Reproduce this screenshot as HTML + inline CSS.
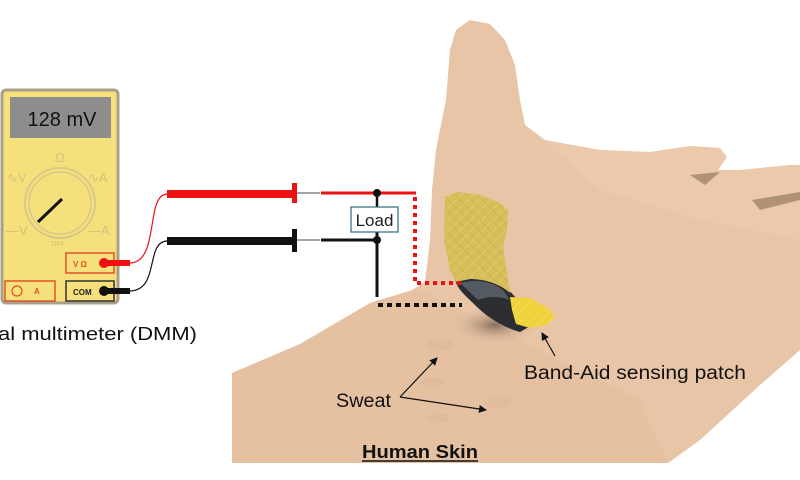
<!DOCTYPE html>
<html><head><meta charset="utf-8"><style>
html,body{margin:0;padding:0;background:#fff;width:800px;height:480px;overflow:hidden}
svg{display:block}
text{font-family:"Liberation Sans",sans-serif}
</style></head><body>
<svg width="800" height="480" viewBox="0 0 800 480" xmlns="http://www.w3.org/2000/svg">
<defs>
<marker id="ah" markerWidth="8" markerHeight="8" refX="7" refY="4" orient="auto" markerUnits="userSpaceOnUse"><path d="M0,0 L8,4 L0,8 z" fill="#111"/></marker>
<pattern id="hatch" width="8" height="8" patternUnits="userSpaceOnUse" patternTransform="rotate(45)"><rect width="8" height="8" fill="#d6be58"/><line x1="0" y1="0" x2="0" y2="8" stroke="#e6d486" stroke-width="1.2"/><line x1="0" y1="0" x2="8" y2="0" stroke="#c8ae4c" stroke-width="1"/></pattern>
<pattern id="hatch2" width="7" height="7" patternUnits="userSpaceOnUse" patternTransform="rotate(45)"><rect width="7" height="7" fill="#f0d23a"/><line x1="0" y1="0" x2="0" y2="7" stroke="#f7e27a" stroke-width="1"/></pattern>
<radialGradient id="shadow" cx="0.5" cy="0.5" r="0.5"><stop offset="0" stop-color="#5a4a3e" stop-opacity="0.7"/><stop offset="1" stop-color="#e6c1a0" stop-opacity="0"/></radialGradient>
</defs>

<!-- skin -->
<path d="M232,373 L300,344 L370,303 L412,290 L425,282 L430,240 L432,190 L436,150 L446,100 L450,50 L456,30 L470,20 L490,24 L505,40 L515,65 L520,100 L525,125 L545,140 L600,150 L650,152 L690,146 L720,148 L727,157 L718,170 L740,170 L790,165 L800,165 L800,350 L760,385 L700,440 L668,463 L232,463 Z" fill="#e8c5a6"/>
<path d="M232,373 L300,344 L370,303 L420,290 L480,320 L560,360 L640,400 L668,463 L232,463 Z" fill="#e2bd9d" opacity="0.5"/>
<path d="M525,125 L545,140 L600,150 L650,152 L690,146 L720,148 L727,157 L718,170 L740,170 L790,165 L800,165 L800,240 L700,220 L600,190 Z" fill="#ecccae" opacity="0.6"/>
<path d="M690,175 L720,172 L705,185 Z" fill="#b09276"/>
<path d="M752,200 L800,192 L800,200 L760,210 Z" fill="#b09276"/>
<ellipse cx="495" cy="325" rx="45" ry="20" fill="url(#shadow)"/>
<!-- sweat drops -->
<ellipse cx="440" cy="345" rx="14" ry="6" fill="#dcb898" opacity="0.6"/>
<ellipse cx="432" cy="383" rx="12" ry="5" fill="#dcb898" opacity="0.6"/>
<ellipse cx="497" cy="402" rx="14" ry="6" fill="#dcb898" opacity="0.6"/>
<ellipse cx="438" cy="418" rx="12" ry="5" fill="#dcb898" opacity="0.6"/>

<!-- patch -->
<path d="M455,280 C470,274 492,276 504,286 C516,296 526,310 534,324 L520,332 C505,328 488,318 476,306 C466,296 458,290 455,280 Z" fill="#2b2d30"/>
<path d="M460,283 C475,279 492,281 503,290 L510,300 C500,296 488,296 478,300 Z" fill="#535a61"/>
<path d="M445,197 L457,192 L480,195 L500,203 L508,210 L507,230 L503,247 L506,267 L510,293 C500,284 485,279 470,279 L456,282 L450,270 L444,240 Z" fill="url(#hatch)"/>
<path d="M510,297 L530,298 L548,308 L555,318 L546,325 L530,328 L516,324 L512,310 Z" fill="url(#hatch2)"/>

<!-- multimeter -->
<rect x="2" y="90" width="116" height="213" rx="4" fill="#f6e07c" stroke="#a8a08a" stroke-width="3"/>
<rect x="10" y="97" width="101" height="41" fill="#8d8d8d"/>
<text x="62" y="126" font-size="20" text-anchor="middle" fill="#111">128 mV</text>
<circle cx="60" cy="203" r="35" fill="none" stroke="#d8c98a" stroke-width="2"/>
<circle cx="60" cy="203" r="31" fill="none" stroke="#d8c98a" stroke-width="1.5"/>
<line x1="38" y1="222" x2="62" y2="199" stroke="#111" stroke-width="3"/>
<g fill="#d2c380" font-size="13">
<text x="60" y="162" text-anchor="middle">Ω</text>
<text x="7" y="182">∿V</text>
<text x="88" y="182">∿A</text>
<text x="6" y="235">—V</text>
<text x="88" y="235">—A</text>
<text x="58" y="246" text-anchor="middle" font-size="7">OFF</text>
</g>
<rect x="66" y="253" width="48" height="20" fill="none" stroke="#e0522c" stroke-width="1.5"/>
<text x="73" y="267" font-size="8" font-weight="bold" fill="#e0522c">V Ω</text>
<rect x="66" y="281" width="48" height="20" fill="none" stroke="#333" stroke-width="1.5"/>
<text x="73" y="295" font-size="8" font-weight="bold" fill="#222">COM</text>
<rect x="5" y="281" width="50" height="20" fill="none" stroke="#e0522c" stroke-width="1.5"/>
<circle cx="17" cy="291" r="5" fill="none" stroke="#e0522c" stroke-width="1.2"/>
<text x="34" y="294" font-size="8" font-weight="bold" fill="#e0522c">A</text>
<!-- plugs -->
<circle cx="104" cy="263" r="5" fill="#e11"/>
<rect x="104" y="260" width="26" height="6" fill="#e11"/>
<circle cx="104" cy="291" r="5" fill="#111"/>
<rect x="104" y="288" width="26" height="6" fill="#111"/>
<path d="M130,263 C160,262 145,195 167,194" fill="none" stroke="#e11" stroke-width="1.2"/>
<path d="M130,291 C160,290 145,242 167,241" fill="none" stroke="#111" stroke-width="1.2"/>
<!-- probes -->
<rect x="167" y="190" width="126" height="8" fill="#e11"/>
<rect x="292" y="183" width="5" height="20" fill="#e11"/>
<line x1="297" y1="193" x2="320" y2="193" stroke="#888" stroke-width="1.5"/>
<rect x="167" y="237" width="126" height="8" fill="#111"/>
<rect x="292" y="229" width="5" height="23" fill="#111"/>
<line x1="297" y1="240" x2="320" y2="240" stroke="#888" stroke-width="1.5"/>

<!-- circuit -->
<line x1="321" y1="193" x2="416" y2="193" stroke="#e11" stroke-width="3"/>
<line x1="321" y1="240" x2="377" y2="240" stroke="#111" stroke-width="3"/>
<line x1="377" y1="193" x2="377" y2="207" stroke="#111" stroke-width="2.5"/>
<line x1="377" y1="232" x2="377" y2="297" stroke="#111" stroke-width="3"/>
<circle cx="377" cy="193" r="4" fill="#111"/>
<circle cx="377" cy="240" r="4" fill="#111"/>
<rect x="351" y="207" width="47" height="25" fill="#fff" stroke="#2b6a7a" stroke-width="1.2"/>
<text x="374.5" y="226" font-size="17" text-anchor="middle" fill="#222">Load</text>
<path d="M415,197 L415,283 L462,283" fill="none" stroke="#e11" stroke-width="4" stroke-dasharray="4,4"/>
<line x1="378" y1="305" x2="462" y2="305" stroke="#111" stroke-width="4" stroke-dasharray="5,4"/>

<!-- labels -->
<text x="-2" y="340" font-size="18" fill="#111" textLength="199" lengthAdjust="spacingAndGlyphs">al multimeter (DMM)</text>
<text x="524" y="379" font-size="19" fill="#111" textLength="222" lengthAdjust="spacingAndGlyphs">Band-Aid sensing patch</text>
<line x1="555" y1="356" x2="542" y2="333" stroke="#111" stroke-width="1.2" marker-end="url(#ah)"/>
<text x="336" y="407" font-size="19" fill="#111" textLength="55" lengthAdjust="spacingAndGlyphs">Sweat</text>
<line x1="400" y1="397" x2="437" y2="358" stroke="#111" stroke-width="1.2" marker-end="url(#ah)"/>
<line x1="400" y1="397" x2="486" y2="410" stroke="#111" stroke-width="1.2" marker-end="url(#ah)"/>
<text x="362" y="458" font-size="18" font-weight="bold" fill="#111" textLength="116" lengthAdjust="spacingAndGlyphs">Human Skin</text>
<line x1="362" y1="461" x2="478" y2="461" stroke="#111" stroke-width="1.5"/>
</svg>
</body></html>
